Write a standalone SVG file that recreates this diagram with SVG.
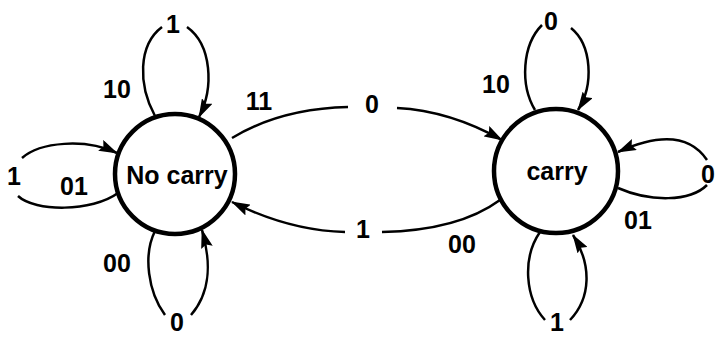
<svg xmlns="http://www.w3.org/2000/svg" width="717" height="337" viewBox="0 0 717 337">
<style>
.node{fill:#fff;stroke:#000;stroke-width:4.5}
.edge{fill:none;stroke:#000;stroke-width:2.5}
text{font-family:"Liberation Sans",Arial,sans-serif;font-weight:bold;font-size:25px;fill:#000;text-anchor:middle}
</style>
<defs>
<marker id="ah" markerWidth="19" markerHeight="12" refX="18" refY="6" orient="auto" markerUnits="userSpaceOnUse">
<path d="M0,0 L19,6 L0,12 L3,6 z" fill="#000"/>
</marker>
</defs>
<rect width="717" height="337" fill="#fff"/>
<g id="connectors">
<path class="edge" d="M155,116 C138,85 138,45 162,27"/>
<path class="edge" d="M187,27 C212,45 214,88 199,117" marker-end="url(#ah)"/>
<path class="edge" d="M22,158 C40,142 85,138 117,153" marker-end="url(#ah)"/>
<path class="edge" d="M18,196 C35,212 92,212 118,193"/>
<path class="edge" d="M155,231 C143,255 148,292 165,315"/>
<path class="edge" d="M191,315 C210,293 212,265 202,230" marker-end="url(#ah)"/>
<path class="edge" d="M232,138 C265,118 305,108 348,107"/>
<path class="edge" d="M397,108 C435,110 470,122 502,140" marker-end="url(#ah)"/>
<path class="edge" d="M500,200 C470,222 430,231 382,232"/>
<path class="edge" d="M345,232 C305,231 268,220 232,202" marker-end="url(#ah)"/>
<path class="edge" d="M535,110 C520,85 522,45 542,25"/>
<path class="edge" d="M571,28 C592,45 594,85 578,110" marker-end="url(#ah)"/>
<path class="edge" d="M707,160 C690,135 660,133 618,152" marker-end="url(#ah)"/>
<path class="edge" d="M707,185 C690,202 650,202 618,188"/>
<path class="edge" d="M540,232 C522,258 525,298 545,320"/>
<path class="edge" d="M570,320 C591,298 592,265 573,235" marker-end="url(#ah)"/>
</g>
<g id="node-nocarry">
<circle class="node" cx="175" cy="174" r="60"/>
<text x="177" y="184">No carry</text>
</g>
<g id="node-carry">
<circle class="node" cx="556" cy="171" r="62"/>
<text x="557" y="180">carry</text>
</g>
<g id="labels">
<text x="173" y="33">1</text>
<text x="117" y="98">10</text>
<text x="259" y="110">11</text>
<text x="14" y="185">1</text>
<text x="74" y="195">01</text>
<text x="117" y="272">00</text>
<text x="177" y="331">0</text>
<text x="372" y="113">0</text>
<text x="363" y="238">1</text>
<text x="462" y="253">00</text>
<text x="496" y="93">10</text>
<text x="551" y="30">0</text>
<text x="708" y="183">0</text>
<text x="638" y="229">01</text>
<text x="557" y="331">1</text>
</g>
</svg>
